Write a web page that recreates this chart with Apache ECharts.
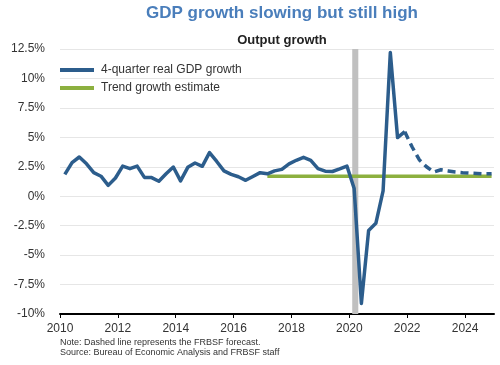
<!DOCTYPE html>
<html>
<head>
<meta charset="utf-8">
<script src="https://cdn.jsdelivr.net/npm/echarts@6/dist/echarts.min.js"></script>
<style>html,body{margin:0;padding:0;background:#fff}#c{width:500px;height:365px}</style>
</head>
<body>
<div id="c"></div>
<script>
// ---- data ----
var actualQuarters = ['2010Q1','2010Q2','2010Q3','2010Q4','2011Q1','2011Q2','2011Q3','2011Q4',
  '2012Q1','2012Q2','2012Q3','2012Q4','2013Q1','2013Q2','2013Q3','2013Q4',
  '2014Q1','2014Q2','2014Q3','2014Q4','2015Q1','2015Q2','2015Q3','2015Q4',
  '2016Q1','2016Q2','2016Q3','2016Q4','2017Q1','2017Q2','2017Q3','2017Q4',
  '2018Q1','2018Q2','2018Q3','2018Q4','2019Q1','2019Q2','2019Q3','2019Q4',
  '2020Q1','2020Q2','2020Q3','2020Q4','2021Q1','2021Q2','2021Q3','2021Q4'];
var actualGrowth = [1.85, 2.85, 3.33, 2.75, 2.0, 1.7, 0.92, 1.55,
  2.56, 2.34, 2.56, 1.6, 1.58, 1.27, 1.9, 2.48,
  1.3, 2.45, 2.82, 2.54, 3.7, 2.95, 2.15, 1.85,
  1.65, 1.35, 1.68, 2.0, 1.9, 2.15, 2.28, 2.75,
  3.05, 3.3, 3.05, 2.35, 2.13, 2.1, 2.32, 2.56,
  0.65, -9.1, -2.9, -2.3, 0.45, 12.2, 4.98, 5.48];
var forecastQuarters = ['2021Q4','2022Q1','2022Q2','2022Q3','2022Q4','2023Q1','2023Q2','2023Q3','2023Q4',
  '2024Q1','2024Q2','2024Q3','2024Q4'];
var forecastGrowth = [5.48, 4.2, 3.1, 2.5, 2.05, 2.25, 2.15, 2.05, 2.0, 1.96, 1.93, 1.9, 1.9];
var trendStart = '2017Q1';
var trendEnd = '2024Q4';
var trendGrowth = 1.7;
var recessionStart = 2020.1;
var recessionEnd = 2020.31;
var xTicks = [2010, 2012, 2014, 2016, 2018, 2020, 2022, 2024];
var yTicks = [-10, -7.5, -5, -2.5, 0, 2.5, 5, 7.5, 10, 12.5];

// quarter label -> decimal year (plotted at start of quarter's last month)
function qx(q) {
  var y = parseInt(q.slice(0, 4), 10), n = parseInt(q.slice(5), 10);
  return y + (3 * n - 1) / 12;
}
function pairs(qs, vs) { return qs.map(function (q, i) { return [qx(q), vs[i]]; }); }

var FONT = 'Liberation Sans, Arial, sans-serif';
var BLUE = '#2c5d8c';
var GREEN = '#8cb03f';

var chart = echarts.init(document.getElementById('c'), null, {renderer: 'canvas'});
chart.setOption({
  animation: false,
  backgroundColor: '#ffffff',
  textStyle: {fontFamily: FONT},
  title: [
    {text: 'GDP growth slowing but still high', left: 277, textAlign: 'center', top: 0,
     textStyle: {fontFamily: FONT, fontSize: 17, fontWeight: 'bold', color: '#4a7ebb'}},
    {text: 'Output growth', left: 277, textAlign: 'center', top: 29,
     textStyle: {fontFamily: FONT, fontSize: 13, fontWeight: 'bold', color: '#222'}}
  ],
  legend: {
    data: ['4-quarter real GDP growth', 'Trend growth estimate'],
    orient: 'vertical', left: 60, top: 64, padding: 0, itemGap: 6,
    icon: 'rect', itemWidth: 34, itemHeight: 4,
    textStyle: {fontFamily: FONT, fontSize: 12, color: '#333', padding: [0, 0, 0, 2]}
  },
  grid: {left: 60, right: 6, top: 49, bottom: 51, containLabel: false},
  xAxis: {
    type: 'value', min: 2010, max: 2025,
    axisLine: {show: true, onZero: false, lineStyle: {color: '#000', width: 2}},
    axisTick: {show: true, length: 4, lineStyle: {color: '#000', width: 1}, customValues: xTicks},
    axisLabel: {fontFamily: FONT, fontSize: 12, color: '#333', margin: 9, customValues: xTicks,
      formatter: function (v) { return String(v); }},
    splitLine: {show: false}
  },
  yAxis: {
    type: 'value', min: -10, max: 12.5, interval: 2.5,
    axisLine: {show: false}, axisTick: {show: false},
    axisLabel: {fontFamily: FONT, fontSize: 12, color: '#333', margin: 15,
      formatter: function (v) { return v + '%'; }},
    splitLine: {lineStyle: {color: '#e6e6e6', width: 1}}
  },
  series: [
    {name: 'recession', type: 'line', data: [], silent: true, z: 1,
     markArea: {silent: true, itemStyle: {color: '#c0c0c0', opacity: 1},
       data: [[{xAxis: recessionStart}, {xAxis: recessionEnd}]]}},
    {name: 'Trend growth estimate', type: 'line', symbol: 'none', z: 3,
     data: [[qx(trendStart), trendGrowth], [qx(trendEnd), trendGrowth]],
     lineStyle: {color: GREEN, width: 3.5}, itemStyle: {color: GREEN}},
    {name: '4-quarter real GDP growth', type: 'line', symbol: 'none', z: 4,
     data: pairs(actualQuarters, actualGrowth),
     lineStyle: {color: BLUE, width: 3.5, join: 'round'}, itemStyle: {color: BLUE}},
    {name: 'forecast', type: 'line', symbol: 'none', z: 4,
     data: pairs(forecastQuarters, forecastGrowth),
     lineStyle: {color: BLUE, width: 3.5, type: [8, 5]}, itemStyle: {color: BLUE}}
  ],
  graphic: [
    {type: 'text', left: 60, top: 338, silent: true,
     style: {text: 'Note: Dashed line represents the FRBSF forecast.\nSource: Bureau of Economic Analysis and FRBSF staff',
       font: '9px ' + FONT, fill: '#333', lineHeight: 10}}
  ]
});
</script>
</body>
</html>
